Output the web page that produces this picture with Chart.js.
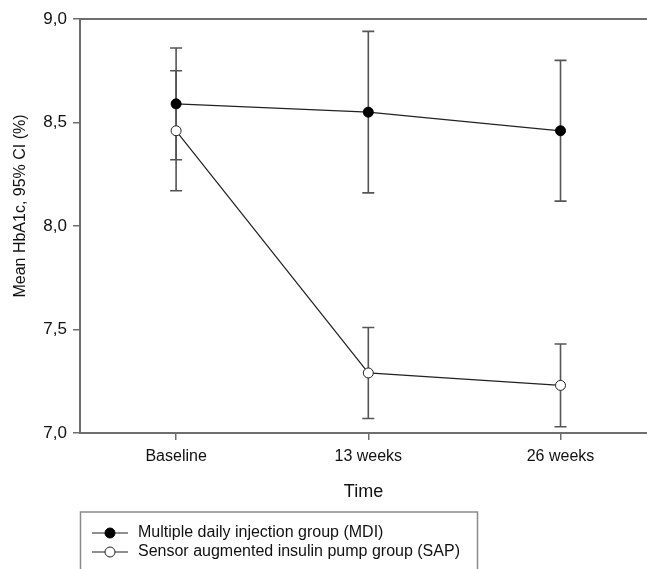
<!DOCTYPE html>
<html>
<head>
<meta charset="utf-8">
<script src="https://cdn.jsdelivr.net/npm/chart.js@4/dist/chart.umd.min.js"></script>
<style>
  html, body { margin: 0; padding: 0; background: #fff; overflow: hidden; }
  #wrap { width: 647px; height: 569px; position: relative; }
</style>
</head>
<body>
<div id="wrap"><canvas id="chart"></canvas></div>
<script>
// categories on the x axis
const categories = ["Baseline", "13 weeks", "26 weeks"];

// mean HbA1c (%)
const mdiMean = [8.59, 8.55, 8.46];
const sapMean = [8.46, 7.29, 7.23];

// 95% CI bounds
const mdiLow  = [8.32, 8.16, 8.12];
const mdiHigh = [8.86, 8.94, 8.80];
const sapLow  = [8.17, 7.07, 7.03];
const sapHigh = [8.75, 7.51, 7.43];

const yTicks = [7.0, 7.5, 8.0, 8.5, 9.0];
const yTitle = "Mean HbA1c, 95% CI (%)";

const AXIS = "#6e6e6e";
const FONT = "'Liberation Sans', Arial, sans-serif";

const toPoints = (arr) => arr.map((v, i) => ({ x: i, y: v }));

// error bars under the lines
const errorBars = {
  id: "errorBars",
  beforeDatasetsDraw(chart) {
    const { ctx, scales } = chart;
    const x = scales.x, y = scales.y;
    const sets = [[mdiLow, mdiHigh], [sapLow, sapHigh]];
    ctx.save();
    ctx.strokeStyle = "#555";
    ctx.lineWidth = 1.6;
    sets.forEach(([lo, hi]) => {
      lo.forEach((l, i) => {
        const px = x.getPixelForValue(i);
        const yl = y.getPixelForValue(l);
        const yh = y.getPixelForValue(hi[i]);
        ctx.beginPath();
        ctx.moveTo(px, yl); ctx.lineTo(px, yh);
        ctx.moveTo(px - 6, yl); ctx.lineTo(px + 6, yl);
        ctx.moveTo(px - 6, yh); ctx.lineTo(px + 6, yh);
        ctx.stroke();
      });
    });
    ctx.restore();
  }
};

// y title sits a bit above the middle of the axis in the original
const yAxisTitle = {
  id: "yAxisTitle",
  afterDraw(chart) {
    const { ctx } = chart;
    ctx.save();
    ctx.translate(21, 206);
    ctx.rotate(-Math.PI / 2);
    ctx.fillStyle = "#111";
    ctx.font = "16px " + FONT;
    ctx.textAlign = "center";
    ctx.textBaseline = "middle";
    ctx.fillText(yTitle, 0, 0);
    ctx.restore();
  }
};

// boxed legend below the axis title
const boxLegend = {
  id: "boxLegend",
  afterDraw(chart) {
    const { ctx } = chart;
    ctx.save();
    ctx.strokeStyle = "#8a8a8a";
    ctx.lineWidth = 1.5;
    ctx.strokeRect(80.5, 512, 397, 80);
    chart.data.datasets.forEach((ds, i) => {
      const yy = 533 + i * 19;
      ctx.strokeStyle = "#222";
      ctx.lineWidth = 1.2;
      ctx.beginPath();
      ctx.moveTo(92, yy); ctx.lineTo(128, yy);
      ctx.stroke();
      ctx.beginPath();
      ctx.arc(110, yy, 5, 0, Math.PI * 2);
      ctx.fillStyle = ds.pointBackgroundColor;
      ctx.fill();
      ctx.strokeStyle = ds.pointBorderColor;
      ctx.lineWidth = 1;
      ctx.stroke();
      ctx.fillStyle = "#111";
      ctx.font = "16px " + FONT;
      ctx.textBaseline = "middle";
      ctx.textAlign = "left";
      ctx.fillText(ds.label, 138, yy);
    });
    ctx.restore();
  }
};

new Chart(document.getElementById("chart"), {
  type: "line",
  data: {
    datasets: [
      {
        label: "Multiple daily injection group (MDI)",
        data: toPoints(mdiMean),
        borderColor: "#222",
        borderWidth: 1.2,
        pointRadius: 5,
        pointBackgroundColor: "#000",
        pointBorderColor: "#000",
        pointBorderWidth: 1,
        tension: 0,
      },
      {
        label: "Sensor augmented insulin pump group (SAP)",
        data: toPoints(sapMean),
        borderColor: "#222",
        borderWidth: 1.2,
        pointRadius: 5,
        pointBackgroundColor: "#fff",
        pointBorderColor: "#222",
        pointBorderWidth: 1,
        tension: 0,
      },
    ],
  },
  options: {
    responsive: true,
    maintainAspectRatio: false,
    animation: false,
    layout: { autoPadding: false, padding: { top: 19, left: 0, right: 0, bottom: 66 } },
    plugins: {
      legend: { display: false },
      tooltip: { enabled: false },
    },
    scales: {
      x: {
        type: "linear",
        position: "bottom",
        min: -0.5,
        max: 2.45,
        afterBuildTicks: (s) => { s.ticks = categories.map((c, i) => ({ value: i })); },
        afterFit: (s) => { s.height = 70; },
        ticks: {
          callback: (v) => categories[v] ?? "",
          color: "#111",
          font: { family: FONT, size: 16 },
          padding: 7,
          maxRotation: 0,
        },
        grid: { display: true, drawOnChartArea: false, drawTicks: true, tickLength: 7, color: AXIS, lineWidth: 1.5 },
        border: { display: true, color: AXIS, width: 2 },
        title: { display: true, text: "Time", color: "#111", font: { family: FONT, size: 18 }, padding: { top: 3, bottom: 0 } },
      },
      xTop: {
        type: "linear",
        position: "top",
        min: -0.5,
        max: 2.45,
        afterFit: (s) => { s.height = 0; },
        ticks: { display: false },
        grid: { display: false },
        border: { display: true, color: AXIS, width: 2 },
      },
      y: {
        min: 7,
        max: 9,
        afterBuildTicks: (s) => { s.ticks = yTicks.map((v) => ({ value: v })); },
        afterFit: (s) => { s.width = 80; },
        ticks: {
          callback: (v) => v.toFixed(1).replace(".", ","),
          color: "#111",
          font: { family: FONT, size: 17 },
          padding: 6,
        },
        grid: { display: true, drawOnChartArea: false, drawTicks: true, tickLength: 7, color: AXIS, lineWidth: 1.5 },
        border: { display: true, color: AXIS, width: 2 },
        title: { display: false },
      },
    },
  },
  plugins: [errorBars, yAxisTitle, boxLegend],
});
</script>
</body>
</html>
